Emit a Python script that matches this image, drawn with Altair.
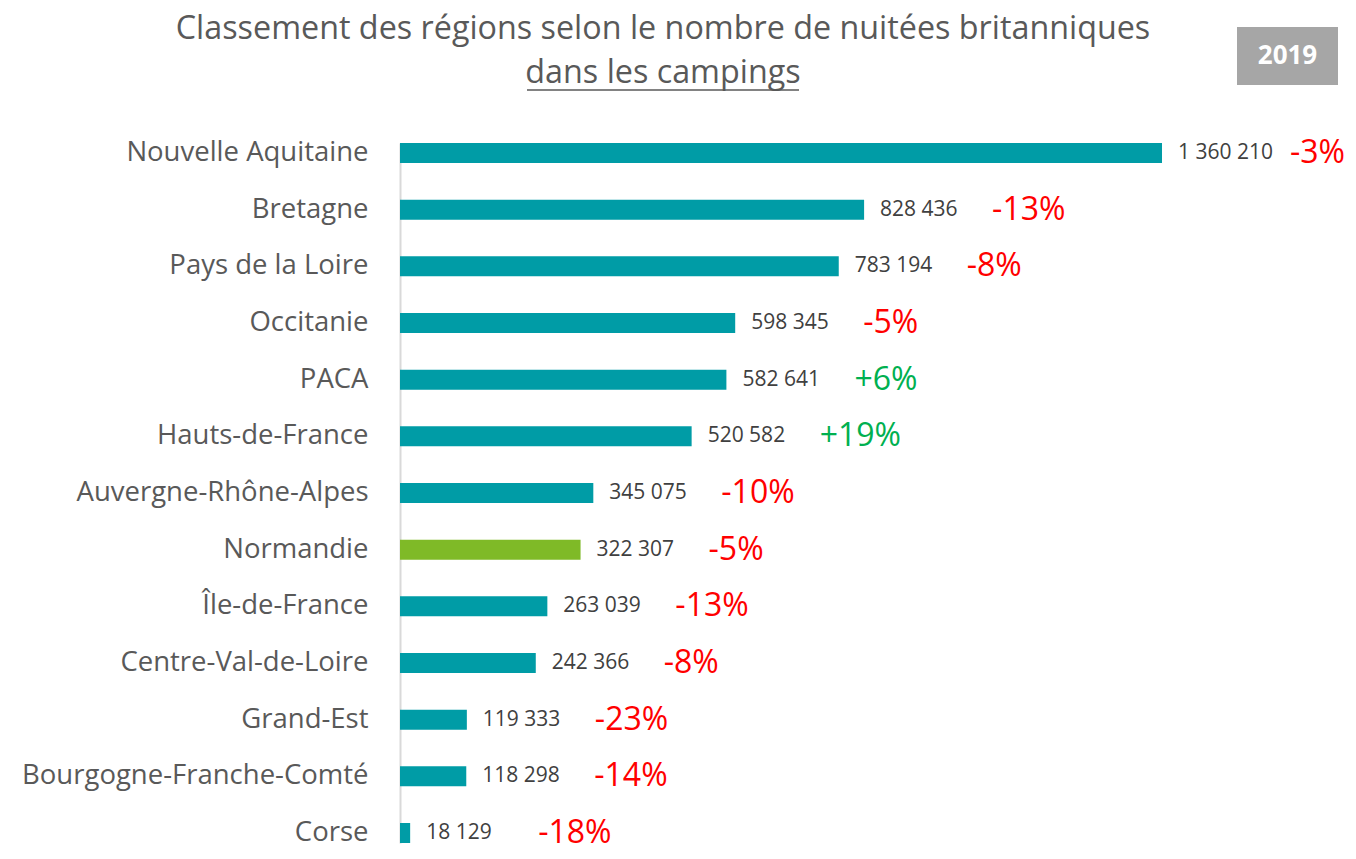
import altair as alt
import pandas as pd

regions = ["Nouvelle Aquitaine", "Bretagne", "Pays de la Loire", "Occitanie", "PACA",
           "Hauts-de-France", "Auvergne-Rhône-Alpes", "Normandie", "Île-de-France",
           "Centre-Val-de-Loire", "Grand-Est", "Bourgogne-Franche-Comté", "Corse"]
nuitees = [1360210, 828436, 783194, 598345, 582641, 520582, 345075, 322307, 263039,
           242366, 119333, 118298, 18129]
evolutions = ["-3%", "-13%", "-8%", "-5%", "+6%", "+19%", "-10%", "-5%", "-13%",
              "-8%", "-23%", "-14%", "-18%"]
highlight = "Normandie"

title_line1 = "Classement des régions selon le nombre de nuitées britanniques"
title_line2 = "dans les campings"
year_label = "2019"

FONT = "Open Sans"

df = pd.DataFrame({
    "region": regions,
    "nuitees": nuitees,
    "label": [f"{v:,}".replace(",", " ") for v in nuitees],
    "evol": evolutions,
    "sign": ["pos" if e.startswith("+") else "neg" for e in evolutions],
    "grp": ["hl" if r == highlight else "base" for r in regions],
})

W, H = 940, 700
xscale = alt.Scale(domain=[0, 1677940], nice=False, zero=True)
yscale = alt.Scale(paddingInner=0.647, paddingOuter=0)

y_enc = alt.Y("region:N", sort=regions, scale=yscale,
              axis=alt.Axis(title=None, ticks=False, labelPadding=32, labelFontSize=27.5,
                            labelFont=FONT, labelColor="#595959", domainColor="#D9D9D9",
                            domainWidth=2, labelLimit=400))
x_enc = alt.X("nuitees:Q", scale=xscale, axis=None)
y_plain = alt.Y("region:N", sort=regions, scale=yscale)

base = alt.Chart(df)

bars = base.mark_bar().encode(
    x=x_enc, y=y_enc,
    color=alt.condition("datum.grp == 'hl'", alt.value("#7FBA27"), alt.value("#009CA6")),
)

values_txt = base.mark_text(align="left", baseline="middle", dx=16, fontSize=21,
                            font=FONT, color="#404040").encode(
    x=x_enc, y=y_plain, text="label:N")

pct_txt = base.mark_text(align="left", baseline="middle", dx=128, fontSize=32,
                         font=FONT).encode(
    x=x_enc, y=y_plain, text="evol:N",
    color=alt.condition("datum.sign == 'pos'", alt.value("#00B050"), alt.value("#FF0000")))

deco = alt.Chart(pd.DataFrame({"k": [0]}))

t1 = deco.mark_text(align="center", baseline="middle", fontSize=32.3, font=FONT,
                    color="#595959").encode(x=alt.value(263), y=alt.value(-114),
                                            text=alt.value(title_line1))
t2 = deco.mark_text(align="center", baseline="middle", fontSize=32.3, font=FONT,
                    color="#595959").encode(x=alt.value(263), y=alt.value(-70),
                                            text=alt.value(title_line2))
uline = deco.mark_rule(color="#595959", strokeWidth=1.5).encode(
    x=alt.value(127), x2=alt.value(399), y=alt.value(-53))
box = deco.mark_rect(color="#A6A6A6").encode(
    x=alt.value(837), x2=alt.value(938), y=alt.value(-116), y2=alt.value(-58))
year = deco.mark_text(align="center", baseline="middle", fontSize=26, font=FONT,
                      fontWeight="bold", color="white").encode(
    x=alt.value(887.5), y=alt.value(-87), text=alt.value(year_label))

chart = alt.layer(bars, values_txt, pct_txt, t1, t2, uline, box, year).properties(
    width=W, height=H,
    padding={"left": 392, "top": 135, "right": 8, "bottom": 8},
    autosize=alt.AutoSizeParams(type="none"),
).configure(background="white").configure_view(stroke="transparent", strokeWidth=0)

chart.save("out.html", embed_options={"renderer": "svg", "actions": False})
